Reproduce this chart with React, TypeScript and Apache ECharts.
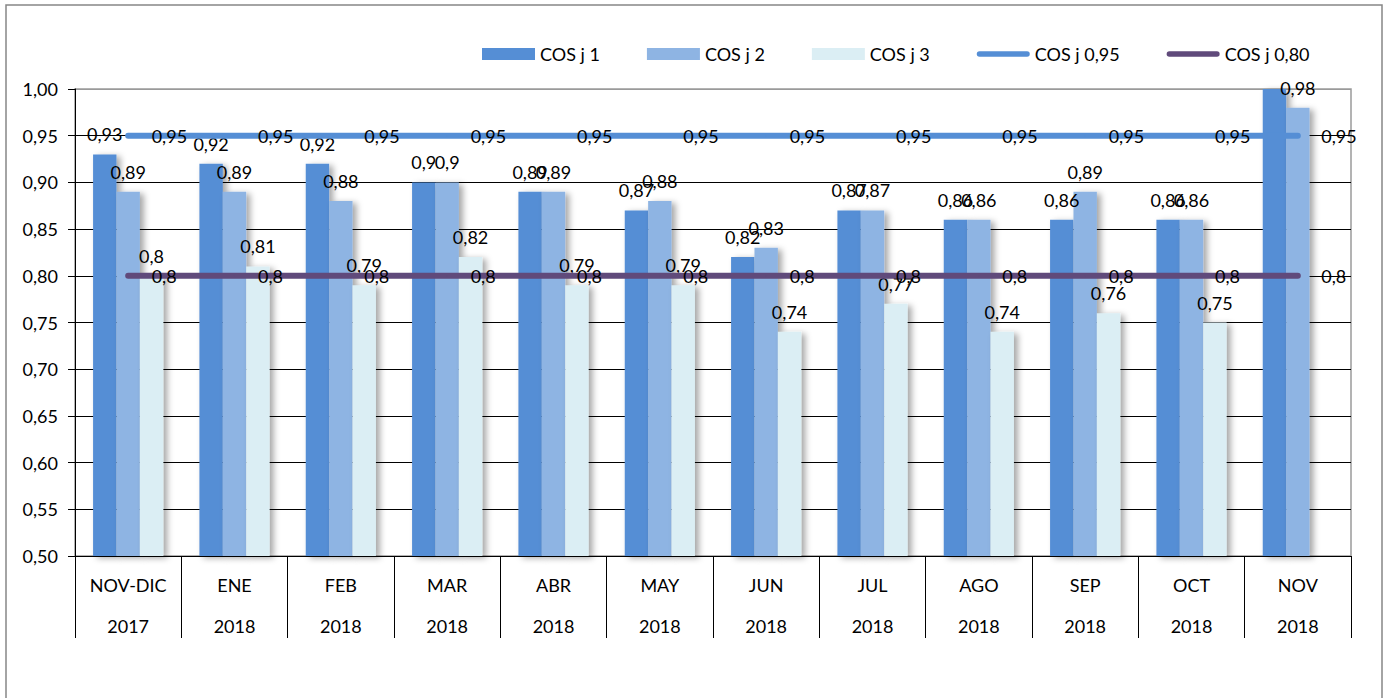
import React, { useEffect, useRef } from 'react';
import * as echarts from 'echarts';

const months = ['NOV-DIC', 'ENE', 'FEB', 'MAR', 'ABR', 'MAY', 'JUN', 'JUL', 'AGO', 'SEP', 'OCT', 'NOV'];
const years = ['2017', '2018', '2018', '2018', '2018', '2018', '2018', '2018', '2018', '2018', '2018', '2018'];
const cosJ1 = [0.93, 0.92, 0.92, 0.9, 0.89, 0.87, 0.82, 0.87, 0.86, 0.86, 0.86, 1.0];
const cosJ2 = [0.89, 0.89, 0.88, 0.9, 0.89, 0.88, 0.83, 0.87, 0.86, 0.89, 0.86, 0.98];
const cosJ3 = [0.8, 0.81, 0.79, 0.82, 0.79, 0.79, 0.74, 0.77, 0.74, 0.76, 0.75, null];
const ref095 = [0.95, 0.95, 0.95, 0.95, 0.95, 0.95, 0.95, 0.95, 0.95, 0.95, 0.95, 0.95];
const ref080 = [0.8, 0.8, 0.8, 0.8, 0.8, 0.8, 0.8, 0.8, 0.8, 0.8, 0.8, 0.8];
const yMin = 0.5;
const yMax = 1.0;
const yStep = 0.05;

const FONT = 'Lato, "Noto Sans", sans-serif';
const comma = (v: number) => String(v).replace('.', ',');
const LINE_ICON = 'path://M3,0L55,0Q58,0 58,3Q58,6 55,6L3,6Q0,6 0,3Q0,0 3,0Z';

export default function App() {
  const ref = useRef<HTMLDivElement>(null);
  useEffect(() => {
    if (!ref.current) return;
    const chart = echarts.init(ref.current, null, { renderer: 'svg' });
    const barShadow = {
      shadowColor: 'rgba(0,0,0,0.35)',
      shadowBlur: 6,
      shadowOffsetX: 4,
      shadowOffsetY: 2,
    };
    const barLabel = {
      show: true,
      position: 'top',
      distance: 11,
      color: '#000',
      fontFamily: FONT,
      fontSize: 18,
      formatter: (p: any) => (p.value == null || p.value >= yMax ? '' : comma(p.value)),
    };
    const lineLabel = {
      show: true,
      position: 'right',
      distance: 23,
      color: '#000',
      fontFamily: FONT,
      fontSize: 18,
      formatter: (p: any) => comma(p.value),
    };
    const nSplit = Math.round((yMax - yMin) / yStep) + 1;
    const splitColors: string[] = [];
    for (let i = 0; i < nSplit; i++) splitColors.push(i === nSplit - 1 ? '#9a9a9a' : '#000');

    chart.setOption({
      animation: false,
      textStyle: { fontFamily: FONT },
      graphic: [
        {
          type: 'rect',
          shape: { x: 6, y: 5, width: 1376, height: 720 },
          style: { fill: 'none', stroke: '#868686', lineWidth: 1.5 },
          silent: true,
        },
      ],
      legend: {
        left: 477,
        top: 40,
        itemWidth: 53,
        itemHeight: 12,
        itemGap: 47,
        textStyle: { fontFamily: FONT, fontSize: 18, color: '#000' },
        data: [
          { name: 'COS j 1', icon: 'rect' },
          { name: 'COS j 2', icon: 'rect' },
          { name: 'COS j 3', icon: 'rect' },
          { name: 'COS j 0,95', icon: LINE_ICON, itemStyle: { color: '#558ED5' } },
          { name: 'COS j 0,80', icon: LINE_ICON, itemStyle: { color: '#604A7B' } },
        ],
      },
      grid: {
        left: 75,
        right: 38,
        top: 89,
        bottom: 142,
        show: true,
        borderColor: '#9a9a9a',
        borderWidth: 1.5,
      },
      xAxis: {
        type: 'category',
        data: months.map((m, i) => m + '\n' + years[i]),
        boundaryGap: true,
        axisLine: { lineStyle: { color: '#000', width: 1 } },
        axisTick: { show: true, interval: 0, length: 82, lineStyle: { color: '#000' } },
        axisLabel: {
          interval: 0,
          margin: 8,
          lineHeight: 41,
          fontSize: 18,
          fontFamily: FONT,
          color: '#000',
        },
      },
      yAxis: {
        type: 'value',
        min: yMin,
        max: yMax,
        interval: yStep,
        axisLine: { show: true, lineStyle: { color: '#000', width: 1 } },
        axisTick: { show: true, length: 7, lineStyle: { color: '#000' } },
        axisLabel: {
          margin: 17,
          fontSize: 18,
          fontFamily: FONT,
          color: '#000',
          formatter: (v: number) => v.toFixed(2).replace('.', ','),
        },
        splitLine: { show: true, lineStyle: { color: splitColors, width: 1 } },
      },
      series: [
        {
          name: 'COS j 1',
          type: 'bar',
          data: cosJ1,
          barGap: '0%',
          barCategoryGap: '34%',
          itemStyle: { color: '#558ED5', ...barShadow },
          label: barLabel,
        },
        {
          name: 'COS j 2',
          type: 'bar',
          data: cosJ2,
          barGap: '0%',
          barCategoryGap: '34%',
          itemStyle: { color: '#8EB4E3', ...barShadow },
          label: barLabel,
        },
        {
          name: 'COS j 3',
          type: 'bar',
          data: cosJ3,
          barGap: '0%',
          barCategoryGap: '34%',
          itemStyle: { color: '#DBEEF4', ...barShadow },
          label: barLabel,
        },
        {
          name: 'COS j 0,95',
          type: 'line',
          data: ref095,
          symbol: 'circle',
          symbolSize: 1,
          showSymbol: true,
          itemStyle: { color: '#558ED5' },
          lineStyle: { color: '#558ED5', width: 6, cap: 'round' },
          label: lineLabel,
          z: 3,
        },
        {
          name: 'COS j 0,80',
          type: 'line',
          data: ref080,
          symbol: 'circle',
          symbolSize: 1,
          showSymbol: true,
          itemStyle: { color: '#604A7B' },
          lineStyle: { color: '#604A7B', width: 6, cap: 'round' },
          label: lineLabel,
          z: 3,
        },
      ],
    });
    return () => chart.dispose();
  }, []);
  return (
    <div
      ref={ref}
      style={{ position: 'absolute', left: 0, top: 0, width: 1389, height: 698, background: '#fff' }}
    />
  );
}
